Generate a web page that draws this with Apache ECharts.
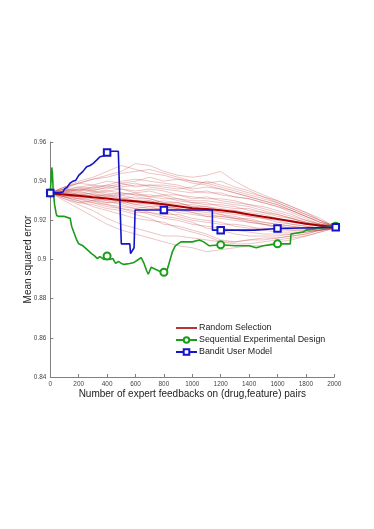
<!DOCTYPE html>
<html><head><meta charset="utf-8">
<script src="https://cdn.jsdelivr.net/npm/echarts@6/dist/echarts.min.js"></script>
<style>html,body{margin:0;padding:0;background:#fff}#c{width:374px;height:529px}</style>
</head><body><div id="c"></div>
<script>
const xTicks = [0,200,400,600,800,1000,1200,1400,1600,1800,2000];
const yTicks = [0.84,0.86,0.88,0.9,0.92,0.94,0.96];
const legendNames = ['Random Selection','Sequential Experimental Design','Bandit User Model'];

// x positions of the faint individual random-selection runs
const trialX = [0,100,200,300,400,500,600,700,800,900,1000,1100,1200,1300,1400,1500,1600,1700,1800,1900,2000,2010];
const trial1 = [0.934,0.936,0.939,0.941,0.943,0.945,0.949,0.948,0.945,0.943,0.942,0.943,0.945,0.940,0.936,0.933,0.930,0.927,0.924,0.920,0.917,0.916];
const trial2 = [0.934,0.930,0.926,0.922,0.918,0.915,0.913,0.911,0.909,0.907,0.906,0.904,0.905,0.906,0.907,0.907,0.909,0.910,0.912,0.914,0.916,0.916];
const trial3 = [0.934,0.935,0.936,0.937,0.936,0.938,0.939,0.937,0.936,0.935,0.934,0.935,0.933,0.932,0.931,0.929,0.927,0.925,0.922,0.919,0.917,0.916];
const trial4 = [0.934,0.932,0.930,0.929,0.927,0.926,0.925,0.923,0.921,0.920,0.918,0.917,0.916,0.915,0.914,0.913,0.913,0.913,0.914,0.915,0.916,0.916];
const trial5 = [0.934,0.934,0.933,0.934,0.935,0.934,0.933,0.933,0.932,0.930,0.929,0.928,0.928,0.927,0.925,0.924,0.922,0.921,0.919,0.918,0.917,0.916];
const trial6 = [0.934,0.933,0.931,0.930,0.929,0.929,0.927,0.926,0.926,0.924,0.923,0.922,0.921,0.920,0.919,0.918,0.917,0.916,0.916,0.916,0.916,0.916];
const trial7 = [0.934,0.936,0.937,0.936,0.938,0.940,0.941,0.940,0.939,0.938,0.936,0.937,0.936,0.934,0.932,0.930,0.928,0.925,0.922,0.919,0.917,0.916];
const trial8 = [0.934,0.932,0.931,0.932,0.930,0.928,0.926,0.927,0.925,0.922,0.920,0.919,0.918,0.918,0.917,0.915,0.914,0.914,0.914,0.915,0.916,0.916];
const trial9 = [0.934,0.934,0.935,0.933,0.932,0.931,0.932,0.931,0.929,0.928,0.928,0.927,0.926,0.925,0.924,0.923,0.921,0.919,0.918,0.917,0.916,0.916];
const trial10 = [0.934,0.935,0.934,0.935,0.934,0.933,0.934,0.932,0.931,0.931,0.929,0.929,0.927,0.926,0.926,0.924,0.923,0.921,0.919,0.917,0.916,0.916];
const trial11 = [0.934,0.933,0.932,0.931,0.930,0.931,0.929,0.928,0.927,0.926,0.925,0.924,0.923,0.922,0.920,0.919,0.918,0.917,0.916,0.916,0.916,0.916];
const trial12 = [0.934,0.937,0.939,0.941,0.942,0.944,0.945,0.946,0.944,0.942,0.940,0.939,0.937,0.935,0.933,0.931,0.929,0.926,0.923,0.920,0.917,0.916];
const trial13 = [0.934,0.931,0.929,0.928,0.926,0.925,0.923,0.921,0.918,0.917,0.915,0.913,0.910,0.909,0.910,0.911,0.911,0.912,0.913,0.915,0.916,0.916];
const trial14 = [0.934,0.935,0.936,0.935,0.937,0.936,0.935,0.936,0.935,0.933,0.932,0.931,0.931,0.930,0.928,0.927,0.925,0.923,0.920,0.918,0.917,0.916];
const trial15 = [0.934,0.933,0.932,0.930,0.931,0.930,0.928,0.929,0.927,0.926,0.924,0.923,0.922,0.921,0.920,0.918,0.916,0.915,0.915,0.915,0.916,0.916];
const trial16 = [0.934,0.934,0.932,0.933,0.933,0.932,0.930,0.929,0.930,0.929,0.927,0.925,0.924,0.924,0.922,0.921,0.920,0.918,0.917,0.916,0.916,0.916];
const trial17 = [0.934,0.936,0.935,0.937,0.938,0.937,0.938,0.938,0.937,0.936,0.937,0.940,0.938,0.936,0.934,0.932,0.929,0.926,0.923,0.920,0.917,0.916];
const trial18 = [0.934,0.932,0.930,0.927,0.925,0.923,0.921,0.920,0.919,0.916,0.914,0.912,0.909,0.908,0.908,0.909,0.910,0.911,0.912,0.914,0.916,0.916];
const trial19 = [0.934,0.935,0.933,0.934,0.932,0.933,0.931,0.931,0.929,0.929,0.927,0.927,0.925,0.925,0.923,0.922,0.921,0.919,0.918,0.917,0.916,0.916];
const trial20 = [0.934,0.933,0.934,0.932,0.933,0.931,0.930,0.930,0.928,0.927,0.926,0.926,0.924,0.923,0.922,0.921,0.919,0.918,0.917,0.916,0.916,0.916];
const trial21 = [0.934,0.936,0.935,0.936,0.935,0.936,0.934,0.935,0.933,0.933,0.931,0.932,0.930,0.929,0.928,0.926,0.924,0.922,0.920,0.918,0.917,0.916];
const trial22 = [0.934,0.932,0.933,0.931,0.929,0.930,0.928,0.927,0.927,0.925,0.924,0.922,0.922,0.921,0.919,0.918,0.917,0.916,0.916,0.916,0.916,0.916];
const trial23 = [0.934,0.937,0.939,0.938,0.940,0.939,0.940,0.942,0.940,0.941,0.940,0.939,0.940,0.937,0.935,0.932,0.930,0.927,0.924,0.921,0.917,0.916];
const trial24 = [0.934,0.933,0.931,0.929,0.928,0.926,0.924,0.924,0.922,0.921,0.919,0.916,0.915,0.913,0.912,0.912,0.912,0.913,0.914,0.915,0.916,0.916];
const trial25 = [0.934,0.934,0.936,0.935,0.933,0.934,0.933,0.932,0.933,0.931,0.930,0.930,0.929,0.928,0.927,0.925,0.923,0.921,0.919,0.917,0.916,0.916];
const trial26 = [0.934,0.935,0.937,0.938,0.937,0.939,0.937,0.938,0.938,0.937,0.935,0.934,0.934,0.932,0.931,0.929,0.927,0.924,0.921,0.918,0.917,0.916];
const trial27 = [0.934,0.933,0.932,0.933,0.931,0.929,0.929,0.930,0.928,0.926,0.925,0.925,0.923,0.921,0.921,0.919,0.918,0.917,0.916,0.916,0.916,0.916];
const trial28 = [0.934,0.932,0.929,0.930,0.928,0.927,0.926,0.924,0.923,0.923,0.921,0.920,0.919,0.917,0.916,0.916,0.915,0.915,0.915,0.915,0.916,0.916];
const trial29 = [0.934,0.937,0.940,0.942,0.945,0.948,0.946,0.944,0.943,0.941,0.939,0.938,0.936,0.934,0.932,0.930,0.928,0.925,0.922,0.919,0.917,0.916];
const trial30 = [0.934,0.931,0.928,0.925,0.921,0.918,0.916,0.914,0.912,0.912,0.911,0.910,0.909,0.909,0.910,0.910,0.911,0.912,0.913,0.915,0.916,0.916];
const trials = [trial1,trial2,trial3,trial4,trial5,trial6,trial7,trial8,trial9,trial10,trial11,trial12,trial13,trial14,trial15,
  trial16,trial17,trial18,trial19,trial20,trial21,trial22,trial23,trial24,trial25,trial26,trial27,trial28,trial29,trial30];

// Random Selection (mean)
const randomX = [0,50,100,200,300,400,500,600,700,800,900,1000,1100,1200,1300,1400,1500,1600,1700,1800,1900,2010];
const randomY = [0.934,0.9335,0.9332,0.9325,0.9318,0.9312,0.9303,0.9298,0.9290,0.9282,0.9272,0.9262,0.9258,0.9252,0.9242,0.9230,0.9218,0.9207,0.9195,0.9183,0.9174,0.9165];

// Sequential Experimental Design
const seqX = [0,5,10,15,20,30,40,45,60,100,140,150,165,186,200,230,260,290,310,330,350,380,400,420,440,460,480,500,520,560,590,620,640,660,680,690,710,740,770,800,820,840,860,880,920,1000,1050,1080,1100,1120,1200,1300,1400,1450,1500,1600,1690,1695,1780,1800,1900,2010];
const seqY = [0.934,0.940,0.947,0.944,0.936,0.928,0.924,0.9225,0.922,0.922,0.921,0.917,0.914,0.910,0.908,0.907,0.905,0.903,0.902,0.9005,0.9015,0.900,0.9018,0.900,0.9005,0.898,0.899,0.898,0.8975,0.898,0.8985,0.900,0.901,0.898,0.894,0.8925,0.896,0.895,0.894,0.8935,0.894,0.899,0.904,0.907,0.909,0.909,0.910,0.909,0.908,0.907,0.9075,0.907,0.907,0.906,0.907,0.908,0.908,0.913,0.914,0.915,0.916,0.917];
const seqMarkX = [0,400,800,1200,1600,2010];

// Bandit User Model
const banditX = [0,60,90,100,120,139,160,180,200,209,230,256,280,300,330,350,380,395,400,420,479,490,500,560,565,575,590,597,700,800,1000,1141,1142,1200,1440,1450,1600,2010];
const banditY = [0.934,0.934,0.9345,0.936,0.937,0.939,0.940,0.9405,0.943,0.944,0.945,0.9474,0.948,0.949,0.951,0.9525,0.953,0.9547,0.9547,0.9553,0.9553,0.930,0.908,0.908,0.903,0.904,0.906,0.9253,0.9253,0.9253,0.9253,0.9253,0.915,0.915,0.915,0.9158,0.9158,0.9165];
const banditMarkX = [0,400,800,1200,1600,2010];

const chart = echarts.init(document.getElementById('c'), null, {renderer:'canvas'});
const font = 'Liberation Sans, Arial, Helvetica, sans-serif';

function pts(xs, ys, marks) {
  return xs.map((x,i)=> {
    const d = {value:[x, ys[i]]};
    if (marks.indexOf(x) < 0) d.symbol = 'none';
    return d;
  });
}

const series = [];
trials.forEach((t,k)=>{
  series.push({
    type:'line', name:'trial'+k, data: trialX.map((x,i)=>[x,t[i]]),
    symbol:'none', clip:false, silent:true, z:1,
    lineStyle:{color:'rgba(195,60,60,0.3)', width:1}
  });
});
series.push({
  type:'line', name:legendNames[0], data: randomX.map((x,i)=>[x,randomY[i]]),
  symbol:'none', clip:false, z:3,
  lineStyle:{color:'#a80000', width:2}, itemStyle:{color:'#a80000'}
});
series.push({
  type:'line', name:legendNames[1], data: pts(seqX, seqY, seqMarkX),
  symbol:'emptyCircle', symbolSize:7, showAllSymbol:true, clip:false, z:4,
  lineStyle:{color:'#1a9e1a', width:1.6},
  itemStyle:{color:'#1a9e1a', borderWidth:1.4}
});
series.push({
  type:'line', name:legendNames[2], data: pts(banditX, banditY, banditMarkX),
  symbol:'emptyRect', symbolSize:6.5, showAllSymbol:true, clip:false, z:5,
  lineStyle:{color:'#1414c8', width:1.6},
  itemStyle:{color:'#1414c8', borderWidth:1.4}
});

chart.setOption({
  animation:false,
  backgroundColor:'#fff',
  grid:{left:50.3, right:39.7, top:142, bottom:152},
  xAxis:{
    type:'value', min:xTicks[0], max:xTicks[xTicks.length-1], interval:200,
    name:'Number of expert feedbacks on (drug,feature) pairs',
    nameLocation:'middle', nameGap:12,
    nameTextStyle:{fontFamily:font, fontSize:10, color:'#222'},
    axisLine:{lineStyle:{color:'#808080', width:1}},
    axisTick:{inside:true, length:3, lineStyle:{color:'#808080'}},
    axisLabel:{fontFamily:font, fontSize:6.4, color:'#444', margin:4, formatter:(v)=>String(v)},
    splitLine:{show:false}
  },
  yAxis:{
    type:'value', min:yTicks[0], max:yTicks[yTicks.length-1], interval:0.02,
    name:'Mean squared error', nameLocation:'middle', nameGap:17, nameRotate:90,
    nameMoveOverlap:false,
    nameTextStyle:{fontFamily:font, fontSize:10, color:'#222'},
    axisLine:{show:true, lineStyle:{color:'#808080', width:1}},
    axisTick:{show:true, inside:true, length:3, lineStyle:{color:'#808080'}},
    axisLabel:{fontFamily:font, fontSize:6.4, color:'#444', margin:4, formatter:(v)=>String(+v.toFixed(2))},
    splitLine:{show:false}
  },
  legend:{
    data:[
      {name:legendNames[0], icon:'path://M0,0L21,0L21,1.6L0,1.6Z'},
      {name:legendNames[1]},
      {name:legendNames[2]}
    ],
    orient:'vertical', left:175, top:323, padding:0,
    itemWidth:21, itemHeight:7, itemGap:2,
    textStyle:{fontFamily:font, fontSize:8.9, color:'#222', lineHeight:10, padding:[0,0,0,-3]},
    selectedMode:false
  },
  series: series
});
</script>
</body></html>
